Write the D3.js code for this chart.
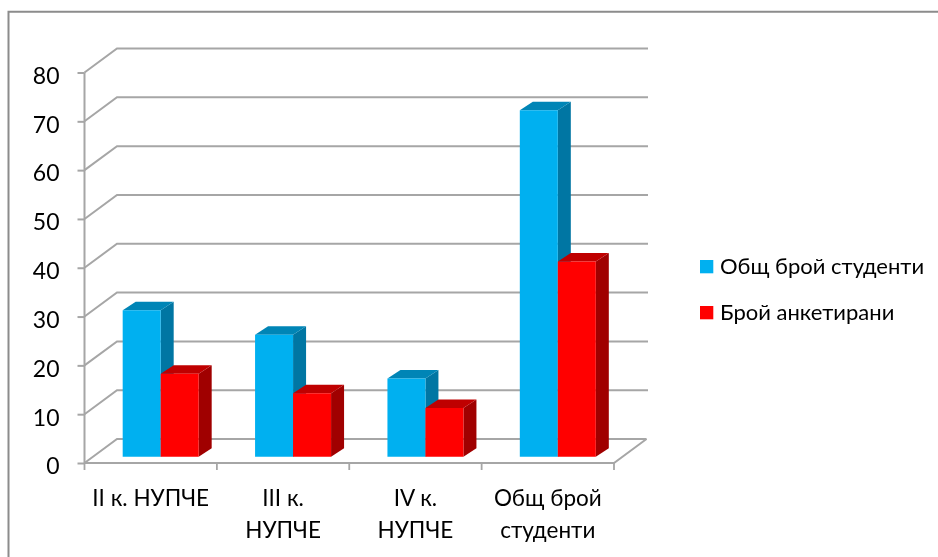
<!DOCTYPE html>
<html><head><meta charset="utf-8">
<script src="https://cdn.jsdelivr.net/npm/d3@7"></script>
<style>html,body{margin:0;padding:0;background:#fff;overflow:hidden}svg{display:block}text{font-family:Lato,"Open Sans",sans-serif;fill:#000}#root{filter:blur(0.4px)}</style>
</head><body><svg id="c" width="938" height="557"></svg>
<script>
const categories = [["II к. НУПЧЕ"],["III к.","НУПЧЕ"],["IV к.","НУПЧЕ"],["Общ брой","студенти"]];
const seriesNames = ["Общ брой студенти","Брой анкетирани"];
const totalStudents = [30,25,16,71];
const surveyed = [17,13,10,40];
const yTicks = [0,10,20,30,40,50,60,70,80];
const seriesValues = [totalStudents,surveyed];
const front = ["#00B0F0","#FF0000"], top_ = ["#0085B6","#BF0000"], side = ["#0076A3","#A00000"];
const gridColor="#A6A6A6";
const W=938,H=557,x0=84.5,x1=614,y0=463,y80=72.5,backDx=32.5,backDy=-24;
const barDx=13,barDy=-8.5,baseDx=10,baseDy=-6.3;

const svg=d3.select("#c");
const root=svg.append("g").attr("id","root");
root.append("path").attr("d",`M8.5,${H+10}V11.7H${W+10}`).attr("fill","none").attr("stroke","#8c8c8c").attr("stroke-width",2);

const y=d3.scaleLinear().domain([0,80]).range([y0,y80]);
const x=d3.scaleBand().domain(d3.range(categories.length)).range([x0,x1]);
const barW=38;
const pad=(x.bandwidth()-2*barW)/2;

// gridlines on the back wall and side wall
const grid=root.append("g").attr("fill","none").attr("stroke",gridColor).attr("stroke-width",2);
grid.selectAll("path").data(yTicks).join("path")
  .attr("d",d=>d3.line()([[x0,y(d)],[x0+backDx,y(d)+backDy],[x1+backDx+(d?1.5:0),y(d)+backDy]]));
// floor right edge and front
grid.append("path").attr("d",d3.line()([[x0,y0],[x1,y0],[x1+backDx,y0+backDy]]));

// left axis
const yAxis=d3.axisLeft(y).tickValues(yTicks).tickSize(7).tickPadding(18).tickFormat(d3.format("d"));
const ga=root.append("g").attr("transform",`translate(${x0},0)`).call(yAxis);
ga.selectAll("path,line").attr("stroke",gridColor).attr("stroke-width",2);
ga.select(".domain").attr("d",`M0,${y80}V${y0}`);
ga.selectAll("text").attr("font-size",23).attr("font-family","Lato").attr("fill","#000").attr("dy","0.47em");

// x ticks
const xt=root.append("g").attr("stroke",gridColor).attr("stroke-width",1.8);
xt.selectAll("line").data(d3.range(categories.length+1)).join("line")
  .attr("x1",i=>x0+i*x.step()).attr("x2",i=>x0+i*x.step()).attr("y1",y0).attr("y2",y0+7);

// bars
const bars=root.append("g");
categories.forEach((c,i)=>{
  seriesValues.forEach((vals,s)=>{
    const v=vals[i];
    const l=x(i)+pad+baseDx+s*barW, r=l+barW, b=y0+baseDy, t=y(v)+baseDy;
    const poly=(pts,fill)=>bars.append("path").attr("d",d3.line()(pts)+"Z").attr("fill",fill);
    poly([[r,b],[r+barDx,b+barDy],[r+barDx,t+barDy],[r,t]],side[s]);
    poly([[l,t],[l+barDx,t+barDy],[r+barDx,t+barDy],[r,t]],top_[s]);
    poly([[l,b],[r,b],[r,t],[l,t]],front[s]);
  });
});

// category labels
const labels=root.append("g").attr("text-anchor","middle").attr("font-size",22.5);
categories.forEach((c,i)=>{
  c.forEach((line,j)=>labels.append("text").attr("x",x(i)+x.bandwidth()/2).attr("y",506+j*32).text(line));
});

// legend
const lg=root.append("g");
seriesNames.forEach((n,i)=>{
  const ly=260+i*46;
  lg.append("rect").attr("x",700).attr("y",ly).attr("width",13.3).attr("height",13.3).attr("fill",front[i]);
  lg.append("text").attr("x",720).attr("y",ly+14).attr("font-size",22).text(n);
});
</script></body></html>
